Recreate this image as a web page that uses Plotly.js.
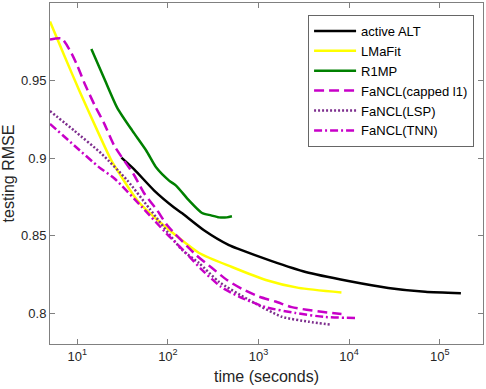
<!DOCTYPE html>
<html>
<head>
<meta charset="utf-8">
<script src="https://cdn.plot.ly/plotly-3.0.1.min.js"></script>
<style>
  html, body { margin: 0; padding: 0; background: #fff; }
  #plot { width: 486px; height: 389px; }
</style>
</head>
<body>
<div id="plot"></div>
<script>
// values (time in seconds, testing RMSE)
let altTime = [30.7, 42.7, 70.6, 117, 144, 250, 472, 608, 1400, 3310, 9820, 27000, 69000, 171000];
let altRmse = [0.9002, 0.8925, 0.8790, 0.8681, 0.8643, 0.8534, 0.8438, 0.8412, 0.8335, 0.8265, 0.8207, 0.8162, 0.8137, 0.8128];

let lmaTime = [5, 7.24, 10.6, 16.7, 23.8, 29.2, 46, 84.4, 221, 509, 1203, 2770, 8220];
let lmaRmse = [0.988, 0.9656, 0.9431, 0.9175, 0.8983, 0.8899, 0.8726, 0.8579, 0.8387, 0.8297, 0.8213, 0.8162, 0.8132];

let r1Time = [14.3, 20, 27.7, 40.6, 57.8, 74.4, 103, 123, 171, 238, 299, 366, 448, 509];
let r1Rmse = [0.9704, 0.9508, 0.9322, 0.9175, 0.9047, 0.8938, 0.8854, 0.8822, 0.8726, 0.8645, 0.8630, 0.8617, 0.8617, 0.8624];

let capTime = [5, 6.72, 8.65, 10.08, 12.0, 15.5, 19.9, 25.6, 42.6, 54.9, 76.3, 98.2, 205, 307, 448, 655, 1007, 1537, 2324, 3395, 5220, 8230];
let capRmse = [0.9765, 0.9771, 0.9675, 0.9592, 0.9483, 0.9342, 0.9220, 0.9079, 0.8887, 0.8771, 0.8662, 0.8566, 0.8374, 0.8290, 0.8213, 0.8156, 0.8106, 0.8074, 0.8038, 0.8021, 0.8006, 0.7994];

let lspTime = [5, 9.33, 18.5, 35.7, 62.3, 144, 221, 366, 782, 1803, 3565, 6380];
let lspRmse = [0.9303, 0.9175, 0.9028, 0.8855, 0.8675, 0.8406, 0.8322, 0.8201, 0.8085, 0.7976, 0.7944, 0.7925];

let tnnTime = [5, 9.33, 17.6, 25.7, 52.3, 95.7, 159, 238, 385, 608, 1194, 2550, 5450, 11640];
let tnnRmse = [0.9220, 0.9079, 0.8938, 0.8868, 0.8681, 0.8515, 0.8386, 0.8278, 0.8169, 0.8106, 0.8038, 0.8000, 0.7974, 0.7968];

let xTicks = [10, 100, 1000, 10000, 100000];
let xTickText = ['10<sup>1</sup>', '10<sup>2</sup>', '10<sup>3</sup>', '10<sup>4</sup>', '10<sup>5</sup>'];

function line(name, x, y, color, dash) {
    return {
        x: x, y: y, name: name,
        type: 'scatter', mode: 'lines',
        line: { color: color, width: 2.5, dash: dash, shape: 'spline', smoothing: 0.6 }
    };
}

let traces = [
    line('active ALT', altTime, altRmse, '#000000', 'solid'),
    line('LMaFit', lmaTime, lmaRmse, '#ffff00', 'solid'),
    line('R1MP', r1Time, r1Rmse, '#008000', 'solid'),
    line('FaNCL(capped l1)', capTime, capRmse, '#c800c8', '10px,5px'),
    line('FaNCL(LSP)', lspTime, lspRmse, '#7e2f8e', '2px,2px'),
    line('FaNCL(TNN)', tnnTime, tnnRmse, '#c800c8', '8px,3px,2px,3px')
];

let axisGray = '#808080';
let layout = {
    width: 486, height: 389,
    margin: { l: 50, r: 3, t: 3, b: 45 },
    paper_bgcolor: '#ffffff',
    plot_bgcolor: '#ffffff',
    font: { family: 'Liberation Sans, Arial, sans-serif', size: 13, color: '#262626' },
    showlegend: true,
    legend: {
        x: 0.596, y: 0.965, xanchor: 'left', yanchor: 'top',
        bgcolor: '#ffffff', bordercolor: '#666666', borderwidth: 1,
        font: { size: 13, color: '#000000' },
        itemwidth: 42,
        tracegroupgap: 0
    },
    xaxis: {
        type: 'log',
        range: [Math.log10(5), Math.log10(300000)],
        tickvals: xTicks, ticktext: xTickText,
        ticks: 'inside', ticklen: 5, tickcolor: axisGray,
        showline: true, linecolor: axisGray, linewidth: 1, mirror: 'ticks',
        showgrid: false, zeroline: false,
        title: { text: 'time (seconds)', standoff: 8 }
    },
    yaxis: {
        range: [0.78, 1.0],
        tickvals: [0.8, 0.85, 0.9, 0.95],
        ticktext: ['0.8', '0.85', '0.9', '0.95'],
        ticks: 'inside', ticklen: 5, tickcolor: axisGray,
        showline: true, linecolor: axisGray, linewidth: 1, mirror: 'ticks',
        showgrid: false, zeroline: false,
        title: { text: 'testing RMSE', standoff: 6 }
    }
};

Plotly.newPlot('plot', traces, layout, { displayModeBar: false, staticPlot: true });
</script>
</body>
</html>
